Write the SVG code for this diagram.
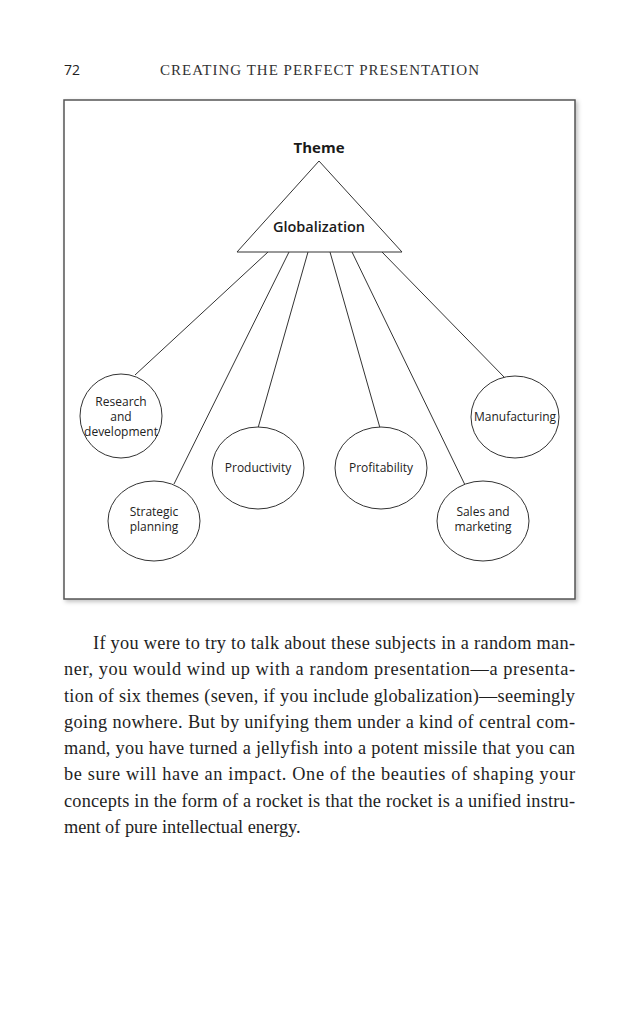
<svg xmlns="http://www.w3.org/2000/svg" width="638" height="1024" viewBox="0 0 638 1024">
<style>
.lbl{font-family:"Open Sans","Noto Sans",sans-serif;font-size:12px;fill:#222;text-anchor:middle}
.ttl{font-family:"Open Sans","Noto Sans",sans-serif;fill:#1a1a1a;text-anchor:middle}
.node{fill:#fff;stroke:#333;stroke-width:1}
.conn{stroke:#333;stroke-width:1;fill:none}
.body{font-family:"Liberation Serif",serif;font-size:18.3px;fill:#1e1e1e}
</style>
<defs>
<filter id="sh" x="-5%" y="-5%" width="110%" height="110%">
<feDropShadow dx="2" dy="2" stdDeviation="2" flood-color="#000" flood-opacity="0.25"/>
</filter>
</defs>
<rect width="638" height="1024" fill="#fff"/>
<text x="64" y="75" font-family="Open Sans, sans-serif" font-size="14" fill="#222">72</text>
<text x="320" y="75" font-family="Liberation Serif, serif" font-size="15" fill="#333" text-anchor="middle" letter-spacing="1" textLength="320" lengthAdjust="spacing">CREATING THE PERFECT PRESENTATION</text>
<rect x="64" y="100" width="511" height="499" fill="#fff" stroke="#555" stroke-width="1.5" filter="url(#sh)"/>
<g id="connectors">
<line class="conn" x1="268" y1="252" x2="135" y2="375"/>
<line class="conn" x1="289" y1="252" x2="174" y2="484"/>
<line class="conn" x1="308" y1="252" x2="258" y2="428"/>
<line class="conn" x1="330" y1="252" x2="380" y2="428"/>
<line class="conn" x1="352" y1="252" x2="466" y2="487"/>
<line class="conn" x1="382" y1="252" x2="505" y2="378"/>
</g>
<g id="theme">
<polygon class="node" points="319,161 237,252 402,252"/>
<text class="ttl" x="319" y="153" font-size="15" font-weight="bold">Theme</text>
<text class="ttl" x="319" y="232" font-size="14.5" font-weight="600">Globalization</text>
</g>
<g id="research">
<ellipse class="node" cx="121" cy="416" rx="41" ry="42"/>
<text class="lbl" x="121" y="406">Research</text>
<text class="lbl" x="121" y="421">and</text>
<text class="lbl" x="121" y="436">development</text>
</g>
<g id="strategic">
<ellipse class="node" cx="154" cy="521" rx="46" ry="40"/>
<text class="lbl" x="154" y="516">Strategic</text>
<text class="lbl" x="154" y="531">planning</text>
</g>
<g id="productivity">
<ellipse class="node" cx="258" cy="468" rx="46" ry="41"/>
<text class="lbl" x="258" y="472">Productivity</text>
</g>
<g id="profitability">
<ellipse class="node" cx="381" cy="468" rx="46" ry="41"/>
<text class="lbl" x="381" y="472">Profitability</text>
</g>
<g id="sales">
<ellipse class="node" cx="483" cy="521" rx="46" ry="40"/>
<text class="lbl" x="483" y="516">Sales and</text>
<text class="lbl" x="483" y="531">marketing</text>
</g>
<g id="manufacturing">
<ellipse class="node" cx="515" cy="417" rx="44" ry="41"/>
<text class="lbl" x="515" y="421">Manufacturing</text>
</g>
<g id="bodytext" class="body">
<text x="93" y="649" textLength="482" lengthAdjust="spacing">If you were to try to talk about these subjects in a random man-</text>
<text x="64" y="675" textLength="511" lengthAdjust="spacing">ner, you would wind up with a random presentation—a presenta-</text>
<text x="64" y="702" textLength="511" lengthAdjust="spacing">tion of six themes (seven, if you include globalization)—seemingly</text>
<text x="64" y="728" textLength="511" lengthAdjust="spacing">going nowhere. But by unifying them under a kind of central com-</text>
<text x="64" y="754" textLength="511" lengthAdjust="spacing">mand, you have turned a jellyfish into a potent missile that you can</text>
<text x="64" y="780" textLength="511" lengthAdjust="spacing">be sure will have an impact. One of the beauties of shaping your</text>
<text x="64" y="807" textLength="511" lengthAdjust="spacing">concepts in the form of a rocket is that the rocket is a unified instru-</text>
<text x="64" y="833">ment of pure intellectual energy.</text>
</g>
</svg>
